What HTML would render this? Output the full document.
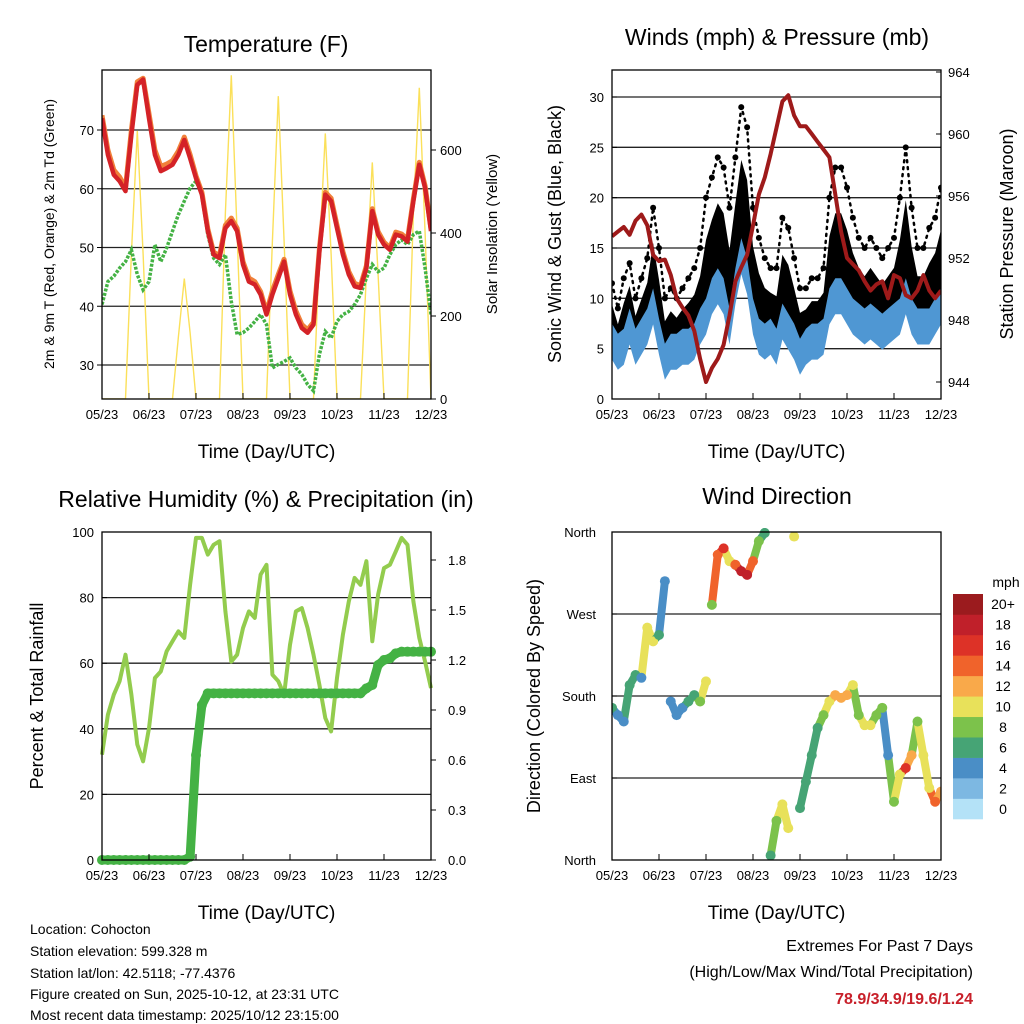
<!DOCTYPE html>
<html><head><meta charset="utf-8"><style>
html,body{margin:0;padding:0;background:#fff;}
svg{display:block;font-family:"Liberation Sans",Arial,sans-serif;}
</style></head><body>
<svg id="fig" width="1024" height="1024" viewBox="0 0 1024 1024" xmlns="http://www.w3.org/2000/svg">
<rect x="0" y="0" width="1024" height="1024" fill="#fff"/>
<g id="p1"></g>
<g id="p2"></g>
<g id="p3"></g>
<g id="p4"></g>
<g id="cb"></g>
<g font-size="14" fill="#000">
<text x="30" y="934">Location: Cohocton</text>
<text x="30" y="956">Station elevation: 599.328 m</text>
<text x="30" y="978">Station lat/lon: 42.5118; -77.4376</text>
<text x="30" y="999">Figure created on Sun, 2025-10-12, at 23:31 UTC</text>
<text x="30" y="1020">Most recent data timestamp: 2025/10/12 23:15:00</text>
</g>
<g text-anchor="end">
<text x="973" y="951" font-size="16">Extremes For Past 7 Days</text>
<text x="973" y="977" font-size="16">(High/Low/Max Wind/Total Precipitation)</text>
<text x="973" y="1004" font-size="16" font-weight="bold" fill="#c8202a">78.9/34.9/19.6/1.24</text>
</g>
</svg>
<script>
// ---------- data (3-hourly samples) ----------
const xTickLabels = ["05/23","06/23","07/23","08/23","09/23","10/23","11/23","12/23"];
const tempRed = [72.0,65.8,62.4,61.3,59.6,69.2,77.7,78.6,72.0,65.8,63.0,63.5,64.1,65.8,68.3,65.2,61.8,59.0,52.8,48.8,48.2,53.3,54.5,52.8,47.1,44.2,43.7,42.0,38.6,42.0,44.8,47.6,42.0,38.6,36.3,35.5,36.9,49.4,59.0,57.9,53.3,48.8,45.4,43.4,43.1,46.5,56.2,52.2,50.5,49.6,52.2,51.9,51.0,57.9,64.1,60.1,52.8];
const tempOrange = [72.5,66.6,63.2,62.0,60.2,70.0,78.2,78.8,72.8,66.6,63.8,64.2,64.8,66.4,68.8,65.8,62.2,59.4,53.2,49.2,48.6,53.8,55.0,53.3,47.6,44.8,44.2,42.5,39.0,42.6,45.4,48.0,42.6,39.2,36.9,36.0,37.3,49.8,59.4,58.4,53.8,49.3,45.9,43.9,43.5,46.9,56.6,52.7,50.9,50.0,52.6,52.3,51.4,58.3,64.5,60.5,53.2];
const dewGreen = [40.3,44.2,45.1,46.5,47.6,49.6,45.4,42.8,44.2,50.5,47.6,49.9,52.8,55.6,57.9,60.1,61.3,59.0,52.2,48.2,47.1,48.8,40.8,35.2,35.5,36.3,37.4,38.6,36.9,29.5,30.1,30.6,31.2,29.5,28.4,26.7,25.6,31.8,35.7,34.6,37.4,38.6,39.1,40.3,42.0,44.8,47.1,45.9,46.5,48.8,50.5,51.3,50.5,52.2,52.8,46.5,38.6];
const solar = [0,0,0,0,0,350,646,350,0,0,0,0,0,150,290,160,0,0,0,0,0,450,780,400,0,0,0,0,0,380,730,380,0,0,0,0,0,350,640,350,0,0,0,0,0,300,570,300,0,0,0,0,0,450,750,400,0];
const tempTicks = [30,40,50,60,70];
const solarTicks = [0,200,400,600];

const gustHigh = [11.5,9,12,13.5,10,12,14,19,15,10,11,10,11,12,13,15,20,22,24,23,19,24,29,27,19,16,14,13,13,18,17,14,11,11,12,12,13,20,23,23,21,18,16,15,16,15,14,15,16,20,25,19,15,15,17,18,21];
const windMean = [5.5,4.5,5,7,5,6,7,9,6,3.5,4.5,4.5,5,5,5.5,7,8,10,11,10,7,11,14,12,8,6,5.5,6,5,7.5,6.5,5.5,4,5,5.5,5.5,6,9,10,10,9,8,7.5,7,7.5,7,6.5,7,7.5,8,10,8,7,7,7,8,9];
const pressure = [953.4,953.7,954.0,953.5,954.4,954.8,954.1,952.2,951.8,951.9,950.9,949.4,948.8,948.3,947.3,945.5,944.0,944.9,945.5,946.4,948.3,950.5,951.4,952.2,954.1,956.1,957.2,958.7,960.4,962.1,962.5,961.2,960.5,960.5,960.0,959.5,959.0,958.5,956.1,953.7,952.0,951.6,951.2,950.5,949.9,950.3,950.5,949.4,950.9,950.7,949.6,949.4,949.9,950.9,949.9,949.4,949.9];
const windTicks = [0,5,10,15,20,25,30];
const pressTicks = [944,948,952,956,960,964];

const rh = [32.1,44.3,50.4,54.5,62.6,50.4,35.2,30.1,40.2,55.5,57.5,63.6,66.7,69.7,67.7,83.9,98.2,98.2,93.1,96.1,97.2,75.8,60.5,62.6,70.7,75.8,73.8,87.0,90.0,56.5,54.5,50.4,65.6,75.8,76.8,70.7,62.6,53.4,43.3,39.2,55.5,68.7,78.8,86.0,83.9,91.1,66.7,80.9,89.0,90.0,94.1,98.2,96.1,78.8,67.7,60.5,52.4];
const precip = [0,0,0,0,0,0,0,0,0,0,0,0,0,0,0,0.02,0.63,0.93,1.0,1.0,1.0,1.0,1.0,1.0,1.0,1.0,1.0,1.0,1.0,1.0,1.0,1.0,1.0,1.0,1.0,1.0,1.0,1.0,1.0,1.0,1.0,1.0,1.0,1.0,1.0,1.03,1.05,1.17,1.2,1.21,1.24,1.25,1.25,1.25,1.25,1.25,1.25];
const rhTicks = [0,20,40,60,80,100];
const precipTicks = ["0.0","0.3","0.6","0.9","1.2","1.5","1.8"];

const windDir = [167,159,152,192,203,200,255,240,247,306,174,159,167,174,181,174,196,280,335,342,328,324,317,313,328,350,359,5,43,61,35,355,57,86,115,145,159,174,181,178,181,192,159,148,148,159,167,115,64,94,101,115,152,115,79,64,75];
const dirSpeed = [5,4,4,6,6,4,9,9,6,3,4,4,4,5,6,7,9,7,13,15,10,13,17,18,14,7,6,6,7,10,9,9,6,6,6,6,7,10,11,12,11,10,8,9,10,7,7,4,8,10,16,11,8,9,10,13,12];
const dirTickLabels = ["North","East","South","West","North"];
const speedLabels = ["0","2","4","6","8","10","12","14","16","18","20+"];
const speedColors = ["#b4e2f7","#7db8e2","#4a8ec6","#46a475","#7cc24b","#e8e15a","#f9a94a","#f0632b","#dd3227","#c0202a","#9b1b1e"];

// ---------- helpers ----------
const NS = "http://www.w3.org/2000/svg";
function mk(parent, tag, attrs, txt){
  const e = document.createElementNS(NS, tag);
  for (const k in attrs) e.setAttribute(k, attrs[k]);
  if (txt !== undefined) e.textContent = txt;
  parent.appendChild(e);
  return e;
}
const N = tempRed.length;
function xs(L, R){ return i => L + (R - L) * i / (N - 1); }
function lin(v0, v1, p0, p1){ return v => p0 + (v - v0) * (p1 - p0) / (v1 - v0); }
function path(arr, fx, fy){ return arr.map((v,i)=> (i?"L":"M") + fx(i).toFixed(1) + "," + fy(v).toFixed(1)).join(""); }

function frame(g, L, T, R, B, name){
  const f = mk(g,"rect",{x:L,y:T,width:R-L,height:B-T,fill:"none",stroke:"#000","stroke-width":1.3});
  
  
}
function xAxis(g, L, R, B){
  const fx = lin(0, xTickLabels.length-1, L, R);
  xTickLabels.forEach((t,i)=>{
    const x = fx(i);
    mk(g,"line",{x1:x,y1:B,x2:x,y2:B-6,stroke:"#000","stroke-width":1});
    const tx = mk(g,"text",{x:x,y:B+20,"font-size":13,"text-anchor":"middle"},t);
    
    
  });
  const tt = mk(g,"text",{x:(L+R)/2,y:B+59,"font-size":19,"text-anchor":"middle"},"Time (Day/UTC)");
  
  
}
function title(g, x, y, s){
  const t = mk(g,"text",{x:x,y:y,"font-size":23,"text-anchor":"middle"},s);
  
  
}
function vtitle(g, x, y, s, size, name){
  const t = mk(g,"text",{x:x,y:y,"font-size":size,"text-anchor":"middle",transform:`rotate(-90 ${x} ${y})`},s);
  
  
}

// ---------- Panel 1: temperature ----------
(function(){
  const g = document.getElementById("p1");
  const L=102,R=431,T=70,B=399;
  const fx = xs(L,R);
  const fy = lin(30,70,365,130);
  const fs = lin(0,600,399,150);
  tempTicks.forEach(v=>{
    mk(g,"line",{x1:L,x2:R,y1:fy(v),y2:fy(v),stroke:"#222","stroke-width":1.3});
    mk(g,"line",{x1:L-5,x2:L,y1:fy(v),y2:fy(v),stroke:"#000"});
    const t = mk(g,"text",{x:L-8,y:fy(v)+5,"font-size":13,"text-anchor":"end"},String(v));
    
    
  });
  solarTicks.forEach(v=>{
    mk(g,"line",{x1:R,x2:R+5,y1:fs(v),y2:fs(v),stroke:"#000"});
    const t = mk(g,"text",{x:R+9,y:fs(v)+5,"font-size":13},String(v));
    
    
  });
  const cp = mk(g,"clipPath",{id:"c1"}); mk(cp,"rect",{x:L,y:T,width:R-L,height:B-T});
  const s = mk(g,"path",{d:path(solar,fx,fs),fill:"none",stroke:"#fbe05a","stroke-width":1.4,"clip-path":"url(#c1)"});
  
  
  const d = mk(g,"path",{d:path(dewGreen,fx,fy),fill:"none",stroke:"#44b244","stroke-width":3.5,"stroke-dasharray":"3 1.5","clip-path":"url(#c1)"});
  
  
  const o = mk(g,"path",{d:path(tempOrange,fx,fy),fill:"none",stroke:"#f0803a","stroke-width":5,"stroke-linejoin":"round","clip-path":"url(#c1)"});
  
  
  const r = mk(g,"path",{d:path(tempRed,fx,fy),fill:"none",stroke:"#d42227","stroke-width":4.5,"stroke-linejoin":"round","clip-path":"url(#c1)"});
  
  
  frame(g,L,T,R,B,"temperature-plot-frame");
  xAxis(g,L,R,B);
  title(g,266,52,"Temperature (F)");
  vtitle(g,54,234,"2m & 9m T (Red, Orange) & 2m Td (Green)",14,"y-axis-title");
  vtitle(g,497,234,"Solar Insolation (Yellow)",15,"y2-axis-title");
})();

// ---------- Panel 2: winds ----------
(function(){
  const g = document.getElementById("p2");
  const L=612,R=941,T=70,B=399;
  const fx = xs(L,R);
  const fy = lin(0,30,399,97);
  const fp = lin(944,964,382,72);
  windTicks.forEach(v=>{
    if (v>0) mk(g,"line",{x1:L,x2:R,y1:fy(v),y2:fy(v),stroke:"#222","stroke-width":1.3});
    mk(g,"line",{x1:L,x2:L+5,y1:fy(v),y2:fy(v),stroke:"#000"});
    const t = mk(g,"text",{x:L-8,y:fy(v)+5,"font-size":13,"text-anchor":"end"},String(v));
    
    
  });
  pressTicks.forEach(v=>{
    mk(g,"line",{x1:R-5,x2:R,y1:fp(v),y2:fp(v),stroke:"#000"});
    const t = mk(g,"text",{x:R+7,y:fp(v)+5,"font-size":13},String(v));
    
    
  });
  const cp = mk(g,"clipPath",{id:"c2"}); mk(cp,"rect",{x:L,y:T,width:R-L,height:B-T});
  // dense gust region (drawn part way up to the gust envelope), plus envelope dots
  let top = gustHigh.map((v,i)=>{ const a=fy(v), b=fy(windMean[i]); return fx(i).toFixed(1)+","+(a+(b-a)*0.35).toFixed(1); });
  let bot = windMean.map((v,i)=>fx(i).toFixed(1)+","+(fy(v)+4).toFixed(1)).reverse();
  const gb = mk(g,"polygon",{points:top.concat(bot).join(" "),fill:"#000","clip-path":"url(#c2)"});
  
  
  const gl = mk(g,"path",{d:path(gustHigh,fx,fy),fill:"none",stroke:"#000","stroke-width":2.5,"stroke-dasharray":"2 5","stroke-linecap":"round","clip-path":"url(#c2)"});
  
  
  gustHigh.forEach((v,i)=>{
    const c = mk(g,"circle",{cx:fx(i),cy:fy(v),r:3,fill:"#000","clip-path":"url(#c2)"});
    
    
  });
  let wt = windMean.map((v,i)=>fx(i).toFixed(1)+","+(fy(v)-20).toFixed(1));
  let wb = windMean.map((v,i)=>fx(i).toFixed(1)+","+(fy(v)+16).toFixed(1)).reverse();
  const wbnd = mk(g,"polygon",{points:wt.concat(wb).join(" "),fill:"#4f97d3","clip-path":"url(#c2)"});
  
  
  const p = mk(g,"path",{d:path(pressure,fx,fp),fill:"none",stroke:"#9e1a1a","stroke-width":4,"stroke-linejoin":"round","clip-path":"url(#c2)"});
  
  
  frame(g,L,T,R,B,"winds-plot-frame");
  xAxis(g,L,R,B);
  title(g,777,45,"Winds (mph) & Pressure (mb)");
  vtitle(g,561,234,"Sonic Wind & Gust (Blue, Black)",18,"y-axis-title");
  vtitle(g,1013,234,"Station Pressure (Maroon)",18,"y2-axis-title");
})();

// ---------- Panel 3: humidity ----------
(function(){
  const g = document.getElementById("p3");
  const L=102,R=431,T=532,B=860;
  const fx = xs(L,R);
  const fy = lin(0,100,860,532);
  const fr = lin(0,1.8,860,560);
  rhTicks.forEach(v=>{
    if (v>0 && v<100) mk(g,"line",{x1:L,x2:R,y1:fy(v),y2:fy(v),stroke:"#222","stroke-width":1.3});
    mk(g,"line",{x1:L,x2:L+5,y1:fy(v),y2:fy(v),stroke:"#000"});
    const t = mk(g,"text",{x:L-8,y:fy(v)+5,"font-size":13,"text-anchor":"end"},String(v));
    
    
  });
  precipTicks.forEach(s=>{
    const v = parseFloat(s);
    mk(g,"line",{x1:R,x2:R+5,y1:fr(v),y2:fr(v),stroke:"#000"});
    const t = mk(g,"text",{x:R+17,y:fr(v)+5,"font-size":13},s);
    
    
  });
  const cp = mk(g,"clipPath",{id:"c3"}); mk(cp,"rect",{x:L-6,y:T,width:R-L+12,height:B-T+6});
  const h = mk(g,"path",{d:path(rh,fx,fy),fill:"none",stroke:"#93cc4e","stroke-width":4,"stroke-linejoin":"round","clip-path":"url(#c3)"});
  
  
  const pr = mk(g,"path",{d:path(precip,fx,fr),fill:"none",stroke:"#44b244","stroke-width":9,"stroke-linecap":"round","stroke-linejoin":"round","clip-path":"url(#c3)"});
  
  
  precip.forEach((v,i)=>{
    const c = mk(g,"circle",{cx:fx(i),cy:fr(v),r:5,fill:"#44b244","clip-path":"url(#c3)"});
    
    
  });
  frame(g,L,T,R,B,"humidity-plot-frame");
  xAxis(g,L,R,B);
  title(g,266,507,"Relative Humidity (%) & Precipitation (in)");
  vtitle(g,43,696,"Percent & Total Rainfall",18,"y-axis-title");
})();

// ---------- Panel 4: wind direction ----------
(function(){
  const g = document.getElementById("p4");
  const L=612,R=941,T=532,B=860;
  const fx = xs(L,R);
  const fy = lin(0,360,860,532);
  dirTickLabels.forEach((s,i)=>{
    const y = fy(i*90);
    if (i>0 && i<4) mk(g,"line",{x1:L,x2:R,y1:y,y2:y,stroke:"#222","stroke-width":1.3});
    mk(g,"line",{x1:L,x2:L+5,y1:y,y2:y,stroke:"#000"});
    const t = mk(g,"text",{x:L-16,y:y+5,"font-size":13,"text-anchor":"end"},s);
    
    
  });
  const col = s => speedColors[Math.min(10, Math.max(0, Math.round(s/2)))];
  const cp = mk(g,"clipPath",{id:"c4"}); mk(cp,"rect",{x:L,y:T-4,width:R-L,height:B-T+8});
  for (let i=1;i<windDir.length;i++){
    if (Math.abs(windDir[i]-windDir[i-1])<70){
      const ln = mk(g,"line",{x1:fx(i-1),y1:fy(windDir[i-1]),x2:fx(i),y2:fy(windDir[i]),stroke:col(dirSpeed[i]),"stroke-width":8,"stroke-linecap":"round","clip-path":"url(#c4)"});
      
      
    }
  }
  windDir.forEach((v,i)=>{
    const c = mk(g,"circle",{cx:fx(i),cy:fy(v),r:5,fill:col(dirSpeed[i]),"clip-path":"url(#c4)"});
    
    
  });
  frame(g,L,T,R,B,"direction-plot-frame");
  xAxis(g,L,R,B);
  title(g,777,504,"Wind Direction");
  vtitle(g,540,696,"Direction (Colored By Speed)",18,"y-axis-title");
})();

// ---------- colorbar ----------
(function(){
  const g = document.getElementById("cb");
  const L=953,W=30,Top=594,Bot=819;
  const h = (Bot-Top)/speedColors.length;
  speedColors.forEach((c,i)=>{
    const y = Bot - (i+1)*h;
    const r = mk(g,"rect",{x:L,y:y,width:W,height:h+0.3,fill:c});
    
    
    const t = mk(g,"text",{x:1003,y:y+h/2+5,"font-size":14,"text-anchor":"middle"},speedLabels[i]);
    
    
  });
  const u = mk(g,"text",{x:1006,y:587,"font-size":14,"text-anchor":"middle"},"mph");
  
  
})();
</script>
</body></html>
